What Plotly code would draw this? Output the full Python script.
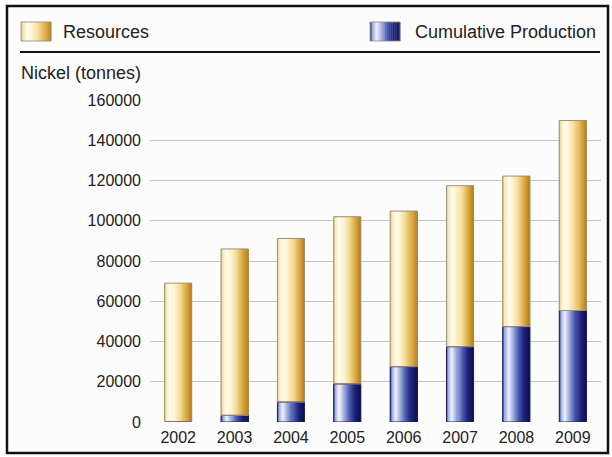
import plotly.graph_objects as go

# ---- data ----
years = [2002, 2003, 2004, 2005, 2006, 2007, 2008, 2009]
production = [0, 3300, 9900, 18900, 27500, 37400, 47400, 55400]
resources = [69000, 82700, 81300, 83100, 77300, 80000, 74800, 94400]
y_ticks = [0, 20000, 40000, 60000, 80000, 100000, 120000, 140000, 160000]

# ---- geometry helpers ----
W, H = 612, 457
L, R, T, B = 150, 11, 100, 35
PW, PH = W - L - R, H - T - B


def px(x):
    return (x - L) / PW


def py(y):
    return (H - B - y) / PH


def hexrgb(h):
    h = h.lstrip('#')
    return [int(h[i:i + 2], 16) for i in (0, 2, 4)]


def grad(stops, t):
    for (t0, c0), (t1, c1) in zip(stops, stops[1:]):
        if t0 <= t <= t1:
            f = (t - t0) / (t1 - t0) if t1 > t0 else 0
            a, b = hexrgb(c0), hexrgb(c1)
            return 'rgb(%d,%d,%d)' % tuple(round(a[i] + (b[i] - a[i]) * f) for i in range(3))
    return stops[-1][1]


gold = [(0, '#e4c678'), (0.1, '#f8ebc0'), (0.22, '#fffcee'), (0.38, '#fdf3d0'),
        (0.58, '#f4dc98'), (0.78, '#e0b050'), (0.92, '#c99428'), (1, '#b5801a')]
blue = [(0, '#3a4098'), (0.1, '#aab6e6'), (0.22, '#eef1fc'), (0.4, '#9aa8dc'),
        (0.6, '#4a58ae'), (0.8, '#1e2278'), (1, '#0e0e52')]

BW = 0.48
N = 26
w = BW / N

fig = go.Figure()
for k in range(N):
    t = (k + 0.5) / N
    fig.add_trace(go.Bar(x=years, y=production, offset=-BW / 2 + k * w, width=w,
                         marker=dict(color=grad(blue, t), line=dict(width=0)),
                         showlegend=False, hoverinfo='skip'))
    fig.add_trace(go.Bar(x=years, y=resources, base=production, offset=-BW / 2 + k * w, width=w,
                         marker=dict(color=grad(gold, t), line=dict(width=0)),
                         showlegend=False, hoverinfo='skip'))
# outlines
fig.add_trace(go.Bar(x=years, y=production, width=BW,
                     marker=dict(color='rgba(0,0,0,0)', line=dict(color='#22225a', width=1)),
                     showlegend=False, hoverinfo='skip'))
fig.add_trace(go.Bar(x=years, y=resources, base=production, width=BW,
                     marker=dict(color='rgba(0,0,0,0)', line=dict(color='#9a907a', width=1)),
                     showlegend=False, hoverinfo='skip'))

shapes = []
# outer frame
shapes.append(dict(type='rect', xref='paper', yref='paper', x0=px(7), x1=px(608), y0=py(453), y1=py(6),
                   line=dict(color='#111111', width=2.5), fillcolor='#fcfcfc', layer='below'))
# header rule
shapes.append(dict(type='line', xref='paper', yref='paper', x0=px(20), x1=px(600), y0=py(52), y1=py(52),
                   line=dict(color='#111111', width=2)))


def swatch(x0, x1, y0, y1, stops, n=16):
    ww = (x1 - x0) / n
    for k in range(n):
        shapes.append(dict(type='rect', xref='paper', yref='paper',
                           x0=px(x0 + k * ww), x1=px(x0 + (k + 1) * ww + 0.3),
                           y0=py(y1), y1=py(y0), line=dict(width=0),
                           fillcolor=grad(stops, (k + 0.5) / n)))
    shapes.append(dict(type='rect', xref='paper', yref='paper', x0=px(x0), x1=px(x1),
                       y0=py(y1), y1=py(y0), line=dict(color='#888888', width=0.8)))


swatch(21, 51, 22, 41, gold)
swatch(370, 400, 22, 41, blue)

font = 'Liberation Sans, Arial, sans-serif'
annotations = [
    dict(text='Resources', xref='paper', yref='paper', x=px(61), y=py(32), xanchor='left',
         yanchor='middle', showarrow=False, font=dict(size=18, color='#222222', family=font)),
    dict(text='Cumulative Production', xref='paper', yref='paper', x=px(598), y=py(32), xanchor='right',
         yanchor='middle', showarrow=False, font=dict(size=18, color='#222222', family=font)),
    dict(text='Nickel (tonnes)', xref='paper', yref='paper', x=px(19), y=py(73), xanchor='left',
         yanchor='middle', showarrow=False, font=dict(size=18, color='#222222', family=font)),
]

fig.update_layout(
    width=W, height=H,
    margin=dict(l=L, r=R, t=T, b=B),
    barmode='overlay',
    paper_bgcolor='white', plot_bgcolor='rgba(0,0,0,0)',
    font=dict(family=font, size=16, color='#333333'),
    shapes=shapes, annotations=annotations,
    xaxis=dict(range=[2001.5, 2009.5], tickmode='array', tickvals=years,
               ticktext=[str(y) for y in years], showgrid=False, zeroline=False,
               showline=False, ticks='', tickfont=dict(size=16, color='#222222'),
               ticklabelstandoff=4),
    yaxis=dict(range=[0, 160000], tickmode='array', tickvals=y_ticks,
               ticktext=[str(v) for v in y_ticks], showgrid=True, gridcolor='#c4c4c4',
               gridwidth=1.2, zeroline=False, showline=False, ticks='',
               tickfont=dict(size=16, color='#222222'), ticklabelstandoff=8),
)

fig.write_html('out.html', config={'displayModeBar': False},
               post_script="document.body.style.margin='0';document.body.style.overflow='hidden';")
